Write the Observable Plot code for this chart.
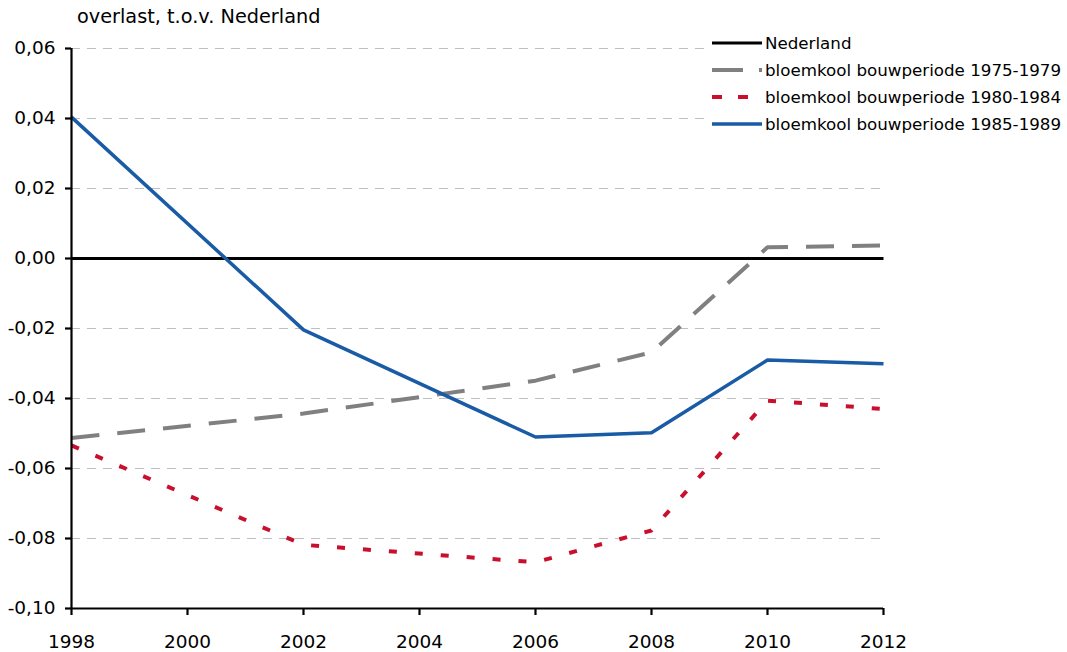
<!DOCTYPE html>
<html>
<head>
<meta charset="utf-8">
<script src="https://cdn.jsdelivr.net/npm/d3@7"></script>
<script src="https://cdn.jsdelivr.net/npm/@observablehq/plot@0.6"></script>
<style>
  body { margin: 0; background: #fff; font-family: "DejaVu Sans", sans-serif; }
  #wrap { position: relative; width: 1067px; height: 652px; }
  #title { position: absolute; left: 77px; top: 5px; font-size: 19.3px; color: #000; }
  #legend { position: absolute; left: 705px; top: 30px; width: 362px; height: 106px; background: #fff; }
  #legend .row { position: absolute; left: 0; height: 26px; display: flex; align-items: center; font-size: 16.7px; }
  #legend svg { display: block; }
</style>
</head>
<body>
<div id="wrap">
  <div id="chart"></div>
  <div id="title">overlast, t.o.v. Nederland</div>
  <div id="legend"></div>
</div>
<script>
const years = [1998, 2002, 2006, 2008, 2010, 2012];
const nederland = [0, 0, 0, 0, 0, 0];
const bouw7579 = [-0.0513, -0.0443, -0.0349, -0.0268, 0.0032, 0.0037];
const bouw8084 = [-0.0534, -0.0818, -0.0868, -0.0777, -0.0406, -0.0430];
const bouw8589 = [0.0404, -0.0204, -0.0510, -0.0498, -0.0290, -0.0301];
const xTicks = [1998, 2000, 2002, 2004, 2006, 2008, 2010, 2012];
const yTicks = [-0.10, -0.08, -0.06, -0.04, -0.02, 0.00, 0.02, 0.04, 0.06];
const seriesNames = ["Nederland", "bloemkool bouwperiode 1975-1979", "bloemkool bouwperiode 1980-1984", "bloemkool bouwperiode 1985-1989"];

const styles = [
  {stroke: "#000000", width: 3.2, dash: null},
  {stroke: "#808080", width: 4, dash: "28,18"},
  {stroke: "#c8102e", width: 4, dash: "8,18"},
  {stroke: "#1a5ba6", width: 3.5, dash: null}
];
const allValues = [nederland, bouw7579, bouw8084, bouw8589];
const seriesData = allValues.map(vals => years.map((y, i) => ({year: y, value: vals[i]})));

const fmt = d => d3.format(".2f")(d).replace(".", ",").replace("−", "-");
const gridVals = yTicks.filter(v => Math.abs(v) > 1e-9 && v > -0.099);

const lineMarks = seriesData.map((data, i) => Plot.line(data, {
  x: "year", y: "value",
  stroke: styles[i].stroke,
  strokeWidth: styles[i].width,
  strokeDasharray: styles[i].dash,
  strokeLinecap: "butt",
  strokeLinejoin: "round"
}));

const chart = Plot.plot({
  width: 1067,
  height: 652,
  marginLeft: 71,
  marginRight: 184,
  marginTop: 48,
  marginBottom: 44,
  style: {fontFamily: "DejaVu Sans, sans-serif", fontSize: "18px", color: "#000", background: "#fff"},
  x: {domain: [1998, 2012]},
  y: {domain: [-0.10, 0.06]},
  marks: [
    Plot.ruleY(gridVals, {stroke: "#bfbfbf", strokeWidth: 1, strokeDasharray: "9,7"}),
    ...lineMarks,
    Plot.ruleX([1998], {stroke: "#000", strokeWidth: 2.2}),
    Plot.ruleY([-0.10], {stroke: "#000", strokeWidth: 2.2}),
    Plot.axisY(yTicks, {tickFormat: fmt, tickSize: 6, tickPadding: 10, strokeWidth: 2.2, label: null, fontSize: 18.5}),
    Plot.axisX(xTicks, {tickFormat: d => String(d), tickSize: 7, tickPadding: 19, strokeWidth: 2.2, label: null, fontSize: 18.5})
  ]
});
document.getElementById("chart").appendChild(chart);

// legend
const legend = document.getElementById("legend");
const rowTops = [0, 27, 54, 81];
seriesNames.forEach((name, i) => {
  const row = document.createElement("div");
  row.className = "row";
  row.style.top = (rowTops[i]) + "px";
  const ns = "http://www.w3.org/2000/svg";
  const svg = document.createElementNS(ns, "svg");
  svg.setAttribute("width", 60);
  svg.setAttribute("height", 26);
  const ln = document.createElementNS(ns, "line");
  ln.setAttribute("x1", 7); ln.setAttribute("x2", 57);
  ln.setAttribute("y1", 13); ln.setAttribute("y2", 13);
  ln.setAttribute("stroke", styles[i].stroke);
  ln.setAttribute("stroke-width", styles[i].width);
  if (styles[i].dash) ln.setAttribute("stroke-dasharray", i === 1 ? "31,16" : "10,16");
  svg.appendChild(ln);
  row.appendChild(svg);
  const t = document.createElement("span");
  t.textContent = name;
  row.appendChild(t);
  legend.appendChild(row);
});
</script>
</body>
</html>
